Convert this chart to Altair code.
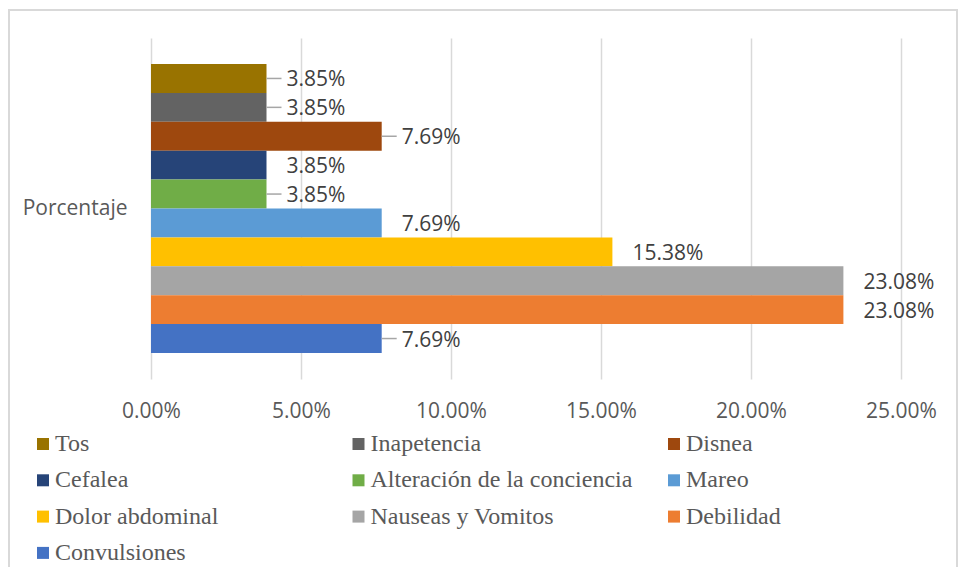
import altair as alt
import pandas as pd

category = "Porcentaje"
series = [
    "Tos", "Inapetencia", "Disnea", "Cefalea", "Alteración de la conciencia",
    "Mareo", "Dolor abdominal", "Nauseas y Vomitos", "Debilidad", "Convulsiones",
]
values = [3.85, 3.85, 7.69, 3.85, 3.85, 7.69, 15.38, 23.08, 23.08, 7.69]
colors = [
    "#997300", "#636363", "#9E480E", "#264478", "#70AD47",
    "#5B9BD5", "#FFC000", "#A5A5A5", "#ED7D31", "#4472C4",
]
leader_series = ["Tos", "Inapetencia", "Disnea", "Alteración de la conciencia", "Convulsiones"]
x_ticks = [0, 5, 10, 15, 20, 25]

df = pd.DataFrame({
    "cat": [category] * len(series),
    "serie": series,
    "pct": [v / 100 for v in values],
    "leader": [s in leader_series for s in series],
})

y_enc = alt.Y(
    "cat:N",
    scale=alt.Scale(paddingInner=0, paddingOuter=0.09),
    axis=alt.Axis(title=None, ticks=False, domain=False, grid=False,
                  labelFont="Open Sans", labelFontSize=21, labelColor="#595959",
                  labelPadding=24),
)
yoff_enc = alt.YOffset("serie:N", sort=series, scale=alt.Scale(paddingInner=0, paddingOuter=0))
x_enc = alt.X(
    "pct:Q",
    scale=alt.Scale(domain=[0, 0.25], nice=False),
    axis=alt.Axis(title=None, values=[t / 100 for t in x_ticks], format=".2%",
                  grid=True, gridColor="#d9d9d9", gridWidth=1.5,
                  domain=False, ticks=False, labelFlush=False, labelFont="Open Sans",
                  labelFontSize=21, labelColor="#595959", labelPadding=21),
)
color_enc = alt.Color(
    "serie:N",
    sort=series,
    scale=alt.Scale(domain=series, range=colors),
    legend=alt.Legend(
        title=None, orient="none", legendX=-120, legendY=394,
        direction="horizontal", columns=3, gridAlign="all",
        columnPadding=29.5, rowPadding=12.3, symbolType="square",
        symbolSize=144, symbolStrokeWidth=0, labelFont="Liberation Serif",
        labelFontSize=24, labelColor="#595959", labelOffset=0,
        labelLimit=400, padding=0,
    ),
)

base = alt.Chart(df)

bars = base.mark_bar().encode(x=x_enc, y=y_enc, yOffset=yoff_enc, color=color_enc)

labels = base.mark_text(
    align="left", baseline="middle", dx=20, dy=2, font="Open Sans", fontSize=21, color="#404040"
).encode(x=x_enc, y=y_enc, yOffset=yoff_enc, text=alt.Text("pct:Q", format=".2%"))

leaders = base.transform_filter("datum.leader").transform_calculate(
    end="datum.pct + 0.005"
).mark_rule(color="#a6a6a6", strokeWidth=1.5).encode(
    x=x_enc, x2="end:Q", y=y_enc, yOffset=yoff_enc
)

frame = alt.Chart(pd.DataFrame({"f": [0]})).mark_rect(
    filled=False, stroke="#d9d9d9", strokeWidth=2
).encode(
    x=alt.value(-142), x2=alt.value(806), y=alt.value(-28), y2=alt.value(620)
)

chart = alt.layer(frame, bars, leaders, labels).properties(
    width=750,
    height=341,
    padding={"left": 143, "top": 30, "right": 58, "bottom": 188},
    autosize=alt.AutoSizeParams(type="none"),
).configure_view(stroke=None)

chart.save("out.html", embed_options={"renderer": "svg", "actions": False})
